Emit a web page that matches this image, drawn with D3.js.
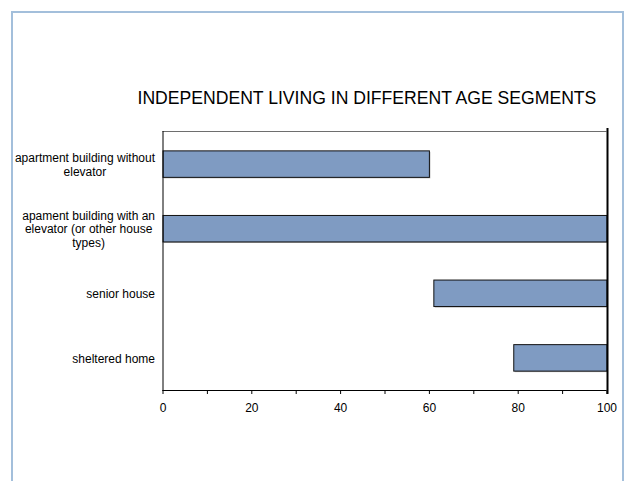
<!DOCTYPE html>
<html>
<head>
<meta charset="utf-8">
<script src="https://cdn.jsdelivr.net/npm/d3@7"></script>
<style>
  html, body { margin: 0; padding: 0; background: #fff; }
  svg { display: block; }
  text { font-family: "Liberation Sans", Arial, sans-serif; fill: #000; }
</style>
</head>
<body>
<script>
// Categories (top to bottom) and the start / end of each floating bar
const categories = [
  ["apartment building without", "elevator"],
  ["apament building with an", "elevator (or other house", "types)"],
  ["senior house"],
  ["sheltered home"]
];
const barStart = [0, 0, 61, 79];
const barEnd = [60, 100, 100, 100];
const xTicks = [0, 10, 20, 30, 40, 50, 60, 70, 80, 90, 100];
const xTickLabels = ["0", "20", "40", "60", "80", "100"];
const title = "INDEPENDENT LIVING IN DIFFERENT AGE SEGMENTS";

const W = 629, H = 481;
const plot = { left: 162.5, right: 606.5, top: 131, bottom: 390 };

const svg = d3.select("body").append("svg")
  .attr("width", W).attr("height", H);

// outer chart border (bottom edge runs off the page)
svg.append("rect")
  .attr("x", 12).attr("y", 12)
  .attr("width", 611).attr("height", 500)
  .attr("fill", "#fff")
  .attr("stroke", "#a3bfdb").attr("stroke-width", 2);

svg.append("text")
  .attr("x", 137.5).attr("y", 103.5)
  .attr("font-size", 17.6)
  .text(title);

const x = d3.scaleLinear().domain([0, 100]).range([plot.left, plot.right]);
const y = d3.scaleBand()
  .domain(categories.map((d, i) => i))
  .range([plot.top, plot.bottom])
  .paddingInner(0.59).paddingOuter(0.3);

const bars = categories.map((c, i) => ({ i, s: barStart[i], e: barEnd[i] }));

// top frame line
svg.append("line")
  .attr("x1", plot.left).attr("x2", plot.right)
  .attr("y1", plot.top + 0.5).attr("y2", plot.top + 0.5)
  .attr("stroke", "#6e6e6e").attr("stroke-width", 1);

// bar shadows
svg.append("g").selectAll("rect").data(bars).join("rect")
  .attr("x", d => x(d.s) + 1.5)
  .attr("y", d => y(d.i) + 1.5)
  .attr("width", d => x(d.e) - x(d.s))
  .attr("height", y.bandwidth())
  .attr("fill", "#9a9a9a").attr("opacity", 0.7);

// bars
svg.append("g").selectAll("rect").data(bars).join("rect")
  .attr("x", d => x(d.s) + 0.5)
  .attr("y", d => y(d.i) + 0.5)
  .attr("width", d => x(d.e) - x(d.s))
  .attr("height", y.bandwidth())
  .attr("fill", "#7f9bc2")
  .attr("stroke", "#111").attr("stroke-width", 1);

// x axis
const xAxis = d3.axisBottom(x)
  .tickValues(xTicks)
  .tickSize(4)
  .tickFormat(d => xTickLabels.includes(String(d)) ? String(d) : "");
const gx = svg.append("g")
  .attr("transform", `translate(0,${plot.bottom})`)
  .call(xAxis);
gx.select(".domain").remove();
gx.selectAll(".tick line").attr("stroke", "#000");
gx.selectAll(".tick text")
  .attr("font-family", "Liberation Sans, Arial, sans-serif")
  .attr("font-size", 12).attr("fill", "#000").attr("dy", "1.25em");
svg.append("line")
  .attr("x1", plot.left).attr("x2", plot.right)
  .attr("y1", plot.bottom + 0.5).attr("y2", plot.bottom + 0.5)
  .attr("stroke", "#000");

// y axis line
svg.append("line")
  .attr("x1", plot.left + 0.5).attr("x2", plot.left + 0.5)
  .attr("y1", plot.top).attr("y2", plot.bottom + 1)
  .attr("stroke", "#000");

// heavy line at 100
svg.append("line")
  .attr("x1", x(100) + 1).attr("x2", x(100) + 1)
  .attr("y1", plot.top - 3).attr("y2", plot.bottom + 4)
  .attr("stroke", "#000").attr("stroke-width", 2);

// category labels: lines centred within a block that is right-aligned
const labelRight = 155;
const lineH = 13.6;
const lg = svg.append("g");
categories.forEach((lines, i) => {
  const g = lg.append("g");
  const texts = g.selectAll("text").data(lines).join("text")
    .attr("font-size", 12)
    .attr("text-anchor", "middle")
    .text(d => d);
  const widths = texts.nodes().map(n => n.getComputedTextLength());
  const maxW = d3.max(widths);
  const cx = labelRight - maxW / 2;
  const cy = y(i) + y.bandwidth() / 2 + 1;
  const n = lines.length;
  texts.attr("x", cx)
    .attr("y", (d, k) => cy + (k - (n - 1) / 2) * lineH)
    .attr("dy", "0.35em");
});
</script>
</body>
</html>
